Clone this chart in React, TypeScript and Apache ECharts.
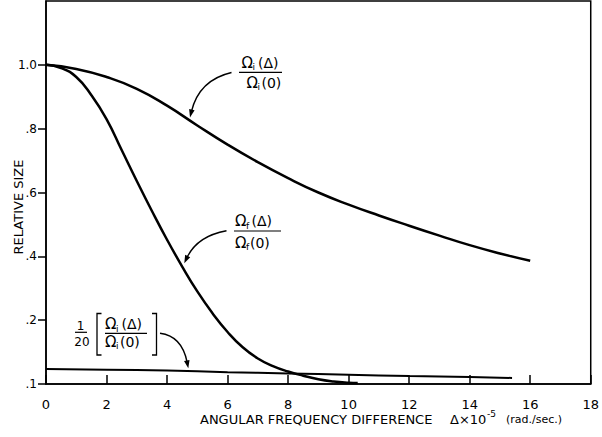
import React, { useEffect, useRef } from 'react';
import * as echarts from 'echarts';

// ---- data ----
const xTicks = [0, 2, 4, 6, 8, 10, 12, 14, 16, 18];
const xTickLabels = ['0', '2', '4', '6', '8', '10', '12', '14', '16', '18'];
const yTicks = [0, 0.2, 0.4, 0.6, 0.8, 1.0];
const yTickLabels = ['.1', '.2', '.4', '.6', '.8', '1.0'];

const omegaIDelta = [0, 1, 2, 3, 4, 5, 6, 7, 8, 9, 10, 11, 12, 13, 14, 15, 16];
const omegaIValues = [1.0, 0.987, 0.962, 0.925, 0.872, 0.81, 0.75, 0.695, 0.645, 0.6, 0.562, 0.528, 0.496, 0.465, 0.435, 0.409, 0.386];

const omegaFDelta = [0, 0.5, 1, 1.5, 2, 2.5, 3, 3.5, 4, 4.5, 5, 5.5, 6, 6.5, 7, 7.5, 8, 8.5, 9, 9.5, 10, 10.3];
const omegaFValues = [1.0, 0.99, 0.962, 0.905, 0.83, 0.733, 0.636, 0.542, 0.452, 0.368, 0.29, 0.222, 0.163, 0.115, 0.08, 0.056, 0.039, 0.026, 0.015, 0.008, 0.004, 0.003];

const scaledDelta = [0, 2, 4, 6, 8, 10, 12, 14, 15.4];
const scaledValues = [0.047, 0.045, 0.042, 0.037, 0.033, 0.029, 0.025, 0.022, 0.019];

const FONT = "'DejaVu Sans', sans-serif";

const zip = (xs: number[], ys: number[]) => xs.map((x, i) => [x, ys[i]]);

const txt = (x: number, y: number, text: string, size: number, align = 'left', extra: any = {}) => ({
  type: 'text',
  x,
  y,
  silent: true,
  ...extra,
  style: {
    text,
    font: `${size}px ${FONT}`,
    fill: '#000',
    textAlign: align,
    textVerticalAlign: 'middle',
    align,
    verticalAlign: 'middle',
  },
});

const seg = (x1: number, y1: number, x2: number, y2: number, w = 1.2) => ({
  type: 'line',
  silent: true,
  shape: { x1, y1, x2, y2 },
  style: { stroke: '#000', lineWidth: w },
});

const poly = (points: number[][], w = 1.3) => ({
  type: 'polyline',
  silent: true,
  shape: { points },
  style: { stroke: '#000', lineWidth: w, fill: null },
});

const arrow = (sx: number, sy: number, cx: number, cy: number, tx: number, ty: number) => {
  let dx = tx - cx;
  let dy = ty - cy;
  const len = Math.sqrt(dx * dx + dy * dy);
  dx /= len;
  dy /= len;
  const bx = tx - dx * 8;
  const by = ty - dy * 8;
  const px = -dy;
  const py = dx;
  return [
    {
      type: 'bezierCurve',
      silent: true,
      shape: { x1: sx, y1: sy, cpx1: cx, cpy1: cy, x2: bx + dx * 2, y2: by + dy * 2 },
      style: { stroke: '#000', lineWidth: 1.4, fill: null },
    },
    {
      type: 'polygon',
      silent: true,
      shape: { points: [[tx, ty], [bx + px * 2.8, by + py * 2.8], [bx - px * 2.8, by - py * 2.8]] },
      style: { fill: '#000' },
    },
  ];
};

const ratio = (x: number, yNum: number, yDen: number, sub: string, xDen: number) => [
  txt(x, yNum, 'Ω', 15),
  txt(x + 11, yNum + 4.5, sub, 9),
  txt(x + 16.5, yNum, '(Δ)', 14),
  txt(xDen, yDen, 'Ω', 15),
  txt(xDen + 11, yDen + 4.5, sub, 9),
  txt(xDen + 15, yDen, '(0)', 14),
];

export default function App() {
  const ref = useRef<HTMLDivElement>(null);

  useEffect(() => {
    if (!ref.current) return;
    const chart = echarts.init(ref.current, undefined, { renderer: 'svg' });

    const labelFor = (ticks: number[], labels: string[]) => (v: number) => {
      const i = ticks.findIndex((t) => Math.abs(t - v) < 1e-6);
      return i >= 0 ? labels[i] : '';
    };

    const graphic: any[] = [
      // axis titles
      txt(18, 207, 'RELATIVE SIZE', 13, 'center', { rotation: Math.PI / 2 }),
      txt(200, 419, 'ANGULAR FREQUENCY DIFFERENCE', 13),
      txt(450, 419, 'Δ×10', 13),
      txt(487, 414, '-5', 9),
      txt(506, 419, '(rad./sec.)', 11),
      // label 1 : Omega_i ratio
      ...ratio(241.5, 62.5, 82.5, 'i', 246.5),
      seg(239, 72.3, 282, 72.3),
      ...arrow(231.5, 72.5, 199, 80, 190, 117.5),
      // label 2 : Omega_f ratio
      ...ratio(235, 221, 242.5, 'f', 235),
      seg(234, 231, 281, 231),
      ...arrow(226.5, 230.7, 197, 236, 184.3, 263.3),
      // label 3 : 1/20 [Omega_i ratio]
      txt(80.5, 325.5, '1', 12, 'center'),
      seg(75, 332.3, 87, 332.3),
      txt(82, 341.5, '20', 12, 'center'),
      poly([[101.5, 313.5], [97, 313.5], [97, 355], [101.5, 355]]),
      ...ratio(105, 324, 341.7, 'i', 105),
      seg(105, 333.3, 147, 333.3),
      poly([[152, 313.5], [156.5, 313.5], [156.5, 355], [152, 355]]),
      ...arrow(160, 333.3, 182, 336, 188.3, 368.3),
    ];

    chart.setOption({
      animation: false,
      backgroundColor: '#fff',
      grid: {
        left: 46,
        right: 2,
        top: 1,
        bottom: 53,
        show: true,
        borderColor: '#000',
        borderWidth: 1.5,
        backgroundColor: 'transparent',
      },
      xAxis: {
        type: 'value',
        min: 0,
        max: 18,
        interval: 2,
        splitLine: { show: false },
        axisLine: { show: true, lineStyle: { color: '#000', width: 1.5 } },
        axisTick: { show: true, inside: true, length: 9, lineStyle: { color: '#000', width: 1.5 } },
        axisLabel: {
          margin: 14,
          color: '#000',
          fontSize: 13,
          fontFamily: FONT,
          showMaxLabel: true,
          showMinLabel: true,
          formatter: labelFor(xTicks, xTickLabels),
        },
      },
      yAxis: {
        type: 'value',
        min: 0,
        max: 1.2,
        interval: 0.2,
        splitLine: { show: false },
        axisLine: { show: true, lineStyle: { color: '#000', width: 1.5 } },
        axisTick: {
          show: true,
          inside: false,
          length: 8,
          customValues: yTicks,
          lineStyle: { color: '#000', width: 1.5 },
        },
        axisLabel: {
          margin: 9,
          color: '#000',
          fontSize: 12,
          fontFamily: FONT,
          customValues: yTicks,
          formatter: labelFor(yTicks, yTickLabels),
        },
      },
      series: [
        {
          type: 'line',
          name: 'omega_i',
          data: zip(omegaIDelta, omegaIValues),
          smooth: true,
          showSymbol: false,
          symbol: 'none',
          lineStyle: { color: '#000', width: 2.5 },
        },
        {
          type: 'line',
          name: 'omega_f',
          data: zip(omegaFDelta, omegaFValues),
          smooth: true,
          showSymbol: false,
          symbol: 'none',
          lineStyle: { color: '#000', width: 2.5 },
        },
        {
          type: 'line',
          name: 'omega_i_20',
          data: zip(scaledDelta, scaledValues),
          smooth: true,
          showSymbol: false,
          symbol: 'none',
          lineStyle: { color: '#000', width: 2 },
        },
      ],
      graphic,
    });

    return () => chart.dispose();
  }, []);

  return (
    <div
      ref={ref}
      style={{ position: 'fixed', left: 0, top: 0, width: 602, height: 437, background: '#fff' }}
    />
  );
}
